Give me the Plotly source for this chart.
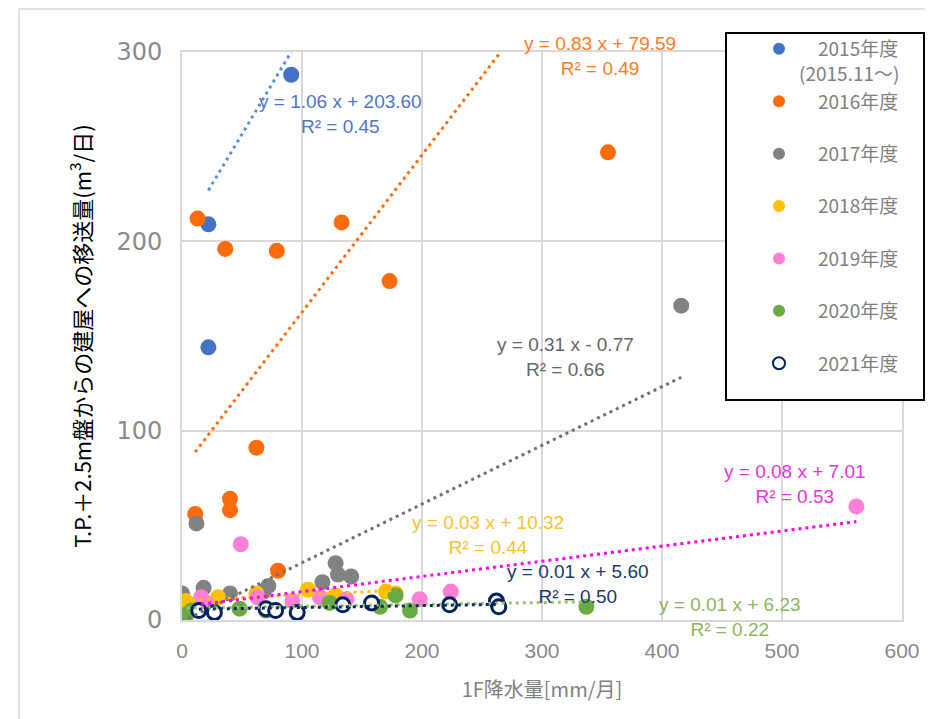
import plotly.graph_objects as go

# ---------------- data ----------------
years = ["2015年度", "2016年度", "2017年度", "2018年度", "2019年度", "2020年度", "2021年度"]
legend_names = ["\u2002\u20022015年度<br>(2015.11～)", "\u2002\u20022016年度<br>\u00a0",
                "\u2002\u20022017年度<br>\u00a0", "\u2002\u20022018年度<br>\u00a0",
                "\u2002\u20022019年度<br>\u00a0", "\u2002\u20022020年度<br>\u00a0",
                "\u2002\u20022021年度<br>\u00a0"]

x2015 = [22, 22, 91]
y2015 = [209, 144, 288]

x2016 = [11, 13, 36, 40, 40, 62, 79, 80, 133, 173, 355]
y2016 = [56, 212, 196, 64, 58, 91, 195, 26, 210, 179, 247]

x2017 = [0, 12, 18, 40, 68, 72, 117, 128, 130, 141, 416]
y2017 = [14, 51, 17, 14, 15, 18, 20, 30, 24, 23, 166]

x2018 = [3, 10, 30, 62, 105, 128, 170, 178]
y2018 = [10, 8, 12, 14, 16, 13, 15, 14]

x2019 = [16, 20, 49, 63, 92, 115, 137, 198, 224, 562]
y2019 = [12, 9, 40, 12, 10, 12, 11, 11, 15, 60]

x2020 = [4, 8, 48, 70, 123, 165, 178, 190, 337]
y2020 = [3, 5, 6, 5, 9, 7, 13, 5, 7]

x2021 = [14, 27, 70, 78, 96, 134, 158, 223, 262, 264]
y2021 = [5, 4, 6, 5, 4, 8, 9, 8, 10, 7]

slopes = [1.06, 0.83, 0.31, 0.03, 0.08, 0.01, 0.01]
intercepts = [203.60, 79.59, -0.77, 10.32, 7.01, 6.23, 5.60]
r2 = [0.45, 0.49, 0.66, 0.44, 0.53, 0.22, 0.50]

xs = [x2015, x2016, x2017, x2018, x2019, x2020, x2021]
ys = [y2015, y2016, y2017, y2018, y2019, y2020, y2021]

x_ticks = [0, 100, 200, 300, 400, 500, 600]
y_ticks = [0, 100, 200, 300]

# ---------------- layout geometry (figure pixels) ----------------
L, T, W, H = 174, 44, 720, 568


def px(x):
    return (x - L) / W


def py(y):
    return (T + H - y) / H


# ---------------- styles ----------------
marker_colors = ["#4472C4", "#FF6A0A", "#828282", "#FFC000", "#FF7FD8", "#6AAA45", "#FFFFFF"]
trend_colors = ["#5B8ED6", "#FF6A0A", "#707070", "#FFC000", "#FF00F0", "#98C46C", "#0D2A5C"]
label_colors = ["#4F76C4", "#FF7A1E", "#666666", "#F8C232", "#E834E0", "#8DB55F", "#20386A"]
# label centers (data coords)
label_pos = [(131.7, 267.3), (348.3, 297.9), (319.2, 138.9), (255.0, 44.9),
             (510.8, 71.8), (456.7, 1.6), (330.0, 19.0)]

fig = go.Figure()

for i in range(7):
    if i == 6:
        mk = dict(size=14, color="#FFFFFF", line=dict(color="#002060", width=3))
    else:
        mk = dict(size=16, color=marker_colors[i], line=dict(width=0))
    fig.add_trace(go.Scatter(x=xs[i], y=ys[i], mode="markers", name=legend_names[i],
                             marker=mk, legendgroup=years[i]))

for i in range(7):
    x0, x1 = min(xs[i]), max(xs[i])
    fig.add_trace(go.Scatter(
        x=[x0, x1], y=[slopes[i] * x0 + intercepts[i], slopes[i] * x1 + intercepts[i]],
        mode="lines", line=dict(color=trend_colors[i], width=3, dash="3px,4px"),
        showlegend=False, hoverinfo="skip"))

for i in range(7):
    sign = "+" if intercepts[i] >= 0 else "-"
    txt = f"y = {slopes[i]:.2f} x {sign} {abs(intercepts[i]):.2f}<br>R² = {r2[i]:.2f}"
    fig.add_annotation(x=label_pos[i][0], y=label_pos[i][1], text=txt, showarrow=False,
                       font=dict(family="Liberation Sans, Arial", size=19, color=label_colors[i]),
                       align="center", xanchor="center", yanchor="middle")

grid = "#D9D9D9"
fig.update_xaxes(range=[0, 600], tickvals=x_ticks, showgrid=True, gridcolor=grid, gridwidth=2,
                 showline=True, linecolor=grid, linewidth=2, mirror=True, zeroline=False,
                 tickfont=dict(family="Liberation Sans, Arial", size=21, color="#8A8A8A"),
                 ticks="", ticklabelstandoff=11,
                 title=dict(text="1F降水量[mm/月]", standoff=22,
                            font=dict(family="Noto Sans CJK JP", size=20, color="#7F7F7F")))
fig.update_yaxes(range=[0, 300], tickvals=y_ticks, showgrid=True, gridcolor=grid, gridwidth=2,
                 showline=True, linecolor=grid, linewidth=2, mirror=True, zeroline=False,
                 tickfont=dict(family="DejaVu Sans", size=24, color="#8A8A8A"),
                 ticks="", ticklabelstandoff=13,
                 title=dict(text="T.P.＋2.5m盤からの建屋への移送量(m<sup>3</sup>/日)", standoff=19,
                            font=dict(family="Noto Sans CJK JP", size=22, color="#000000")))

# outer chart border
fig.add_shape(type="rect", xref="paper", yref="paper",
              x0=px(11), x1=px(960), y0=py(760), y1=py(1),
              line=dict(color="#D9D9D9", width=1.5), fillcolor="rgba(0,0,0,0)", layer="below")
# legend frame
fig.add_shape(type="rect", xref="paper", yref="paper",
              x0=px(718), x1=px(916), y0=py(392), y1=py(25),
              line=dict(color="#000000", width=2), fillcolor="#FFFFFF", layer="above")

fig.update_layout(
    width=933, height=719,
    margin=dict(l=L, r=933 - L - W, t=T, b=719 - T - H, autoexpand=False),
    plot_bgcolor="white", paper_bgcolor="white",
    legend=dict(x=px(751), y=py(22), xanchor="left", yanchor="top",
                bgcolor="rgba(0,0,0,0)", borderwidth=0, itemsizing="constant", valign="top",
                tracegroupgap=0, maxheight=650,
                font=dict(family="Noto Sans CJK JP", size=19, color="#7F7F7F")),
)

fig.write_html("out.html")
